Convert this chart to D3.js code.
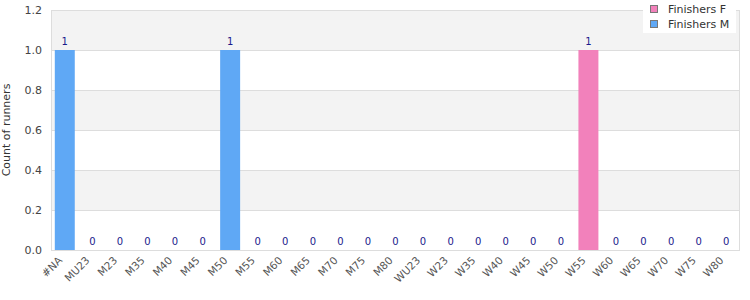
<!DOCTYPE html>
<html lang="en">
<head>
<meta charset="UTF-8" />
<title>Finishers by category</title>
<style>
	* { margin: 0; padding: 0; }
	body { background: #fff; font-family: 'DejaVu Sans', sans-serif; }
	svg text { font-family: 'DejaVu Sans', sans-serif; }
</style>
</head>
<body>
<svg id="chart" width="750" height="300"></svg>
<script src="https://d3js.org/d3.v7.min.js"></script>
<script>
	const categories = ['#NA', 'MU23', 'M23', 'M35', 'M40', 'M45', 'M50', 'M55', 'M60', 'M65', 'M70', 'M75', 'M80',
		'WU23', 'W23', 'W35', 'W40', 'W45', 'W50', 'W55', 'W60', 'W65', 'W70', 'W75', 'W80'];
	const finishersF = [0, 0, 0, 0, 0, 0, 0, 0, 0, 0, 0, 0, 0, 0, 0, 0, 0, 0, 0, 1, 0, 0, 0, 0, 0];
	const finishersM = [1, 0, 0, 0, 0, 0, 1, 0, 0, 0, 0, 0, 0, 0, 0, 0, 0, 0, 0, 0, 0, 0, 0, 0, 0];
	const yTicks = [0, 0.2, 0.4, 0.6, 0.8, 1.0, 1.2];
	const seriesNames = ['Finishers F', 'Finishers M'];
	const seriesColors = ['#f281bb', '#5fa8f5'];

	const svg = d3.select('#chart');
	const plotL = 51, plotR = 740, plotT = 10, plotB = 250;

	const x = d3.scaleBand().domain(categories).range([plotL, plotR]).paddingInner(0.275).paddingOuter(0.1375);
	const y = d3.scaleLinear().domain([0, 1.2]).range([plotB, plotT]);

	// alternating bands, grey from the top down
	for (let i = 0; i < yTicks.length - 1; i++) {
		svg.append('rect')
			.attr('x', plotL).attr('width', plotR - plotL)
			.attr('y', y(yTicks[i + 1])).attr('height', y(yTicks[i]) - y(yTicks[i + 1]))
			.attr('fill', i % 2 === 1 ? '#f3f3f3' : '#fff');
	}
	svg.selectAll('.grid').data(yTicks).enter().append('line')
		.attr('x1', plotL).attr('x2', plotR)
		.attr('y1', d => y(d) + 0.5).attr('y2', d => y(d) + 0.5)
		.attr('stroke', '#dddddd');
	svg.append('rect')
		.attr('x', plotL + 0.5).attr('y', plotT + 0.5)
		.attr('width', plotR - plotL - 1).attr('height', plotB - plotT)
		.attr('fill', 'none').attr('stroke', '#dddddd');

	// y axis
	const yAxis = svg.append('g')
		.attr('transform', `translate(${plotL},0)`)
		.call(d3.axisLeft(y).tickValues(yTicks).tickFormat(d3.format('.1f')).tickSize(0).tickPadding(9));
	yAxis.select('.domain').remove();
	yAxis.selectAll('text').attr('fill', '#444').style('font-size', '11px');

	svg.append('text')
		.attr('transform', `translate(10,${(plotT + plotB) / 2}) rotate(-90)`)
		.attr('text-anchor', 'middle')
		.attr('fill', '#333')
		.style('font-size', '11px')
		.text('Count of runners');

	// x labels, turned -45deg and ending at the tick
	svg.append('g').selectAll('text').data(categories).enter().append('text')
		.attr('transform', d => `translate(${x(d) + x.bandwidth() / 2 - 2},${plotB + 11}) rotate(-45)`)
		.attr('text-anchor', 'end')
		.attr('fill', '#555')
		.style('font-size', '10.5px')
		.text(d => d);

	// stacked bars
	const rows = categories.map((c, i) => ({ cat: c, F: finishersF[i], M: finishersM[i] }));
	const stack = d3.stack().keys(['F', 'M'])(rows);
	svg.selectAll('.series').data(stack).enter().append('g')
		.attr('fill', (d, i) => seriesColors[i])
		.selectAll('rect').data(d => d.filter(p => p[1] > p[0])).enter().append('rect')
		.attr('x', d => x(d.data.cat))
		.attr('width', x.bandwidth())
		.attr('y', d => y(d[1]))
		.attr('height', d => y(d[0]) - y(d[1]));

	// value labels
	svg.selectAll('.val').data(rows).enter().append('text')
		.attr('x', d => x(d.cat) + x.bandwidth() / 2)
		.attr('y', d => y(d.F + d.M) - 5)
		.attr('text-anchor', 'middle')
		.attr('fill', '#1a1a8c')
		.style('font-size', '10px')
		.text(d => d.F + d.M);

	// legend
	svg.append('rect').attr('x', 643).attr('y', 0).attr('width', 93).attr('height', 33).attr('fill', '#fff');
	seriesNames.forEach((name, i) => {
		svg.append('rect')
			.attr('x', 650.5).attr('y', 5.5 + i * 15)
			.attr('width', 7).attr('height', 7)
			.attr('fill', seriesColors[i]).attr('stroke', '#777');
		svg.append('text')
			.attr('x', 668).attr('y', 13 + i * 15)
			.attr('fill', '#333')
			.style('font-size', '11px')
			.text(name);
	});
</script>
</body>
</html>
